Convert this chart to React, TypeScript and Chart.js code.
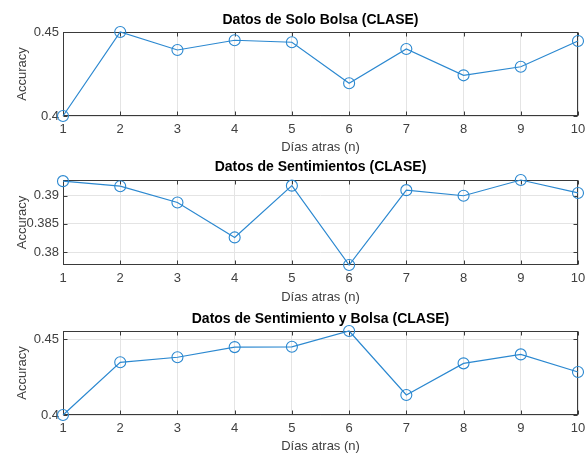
import React, { useEffect, useRef } from 'react';
import { Chart, registerables } from 'chart.js';

Chart.register(...registerables);

// ---- data ----
const days = [1, 2, 3, 4, 5, 6, 7, 8, 9, 10];
const soloBolsa = [0.4, 0.45, 0.4393, 0.4451, 0.4439, 0.4195, 0.4399, 0.4242, 0.4293, 0.4446];
const sentimientos = [0.3926, 0.3917, 0.3888, 0.3826, 0.3918, 0.3777, 0.391, 0.39, 0.3928, 0.3905];
const sentBolsa = [0.4, 0.4347, 0.438, 0.4447, 0.4449, 0.4553, 0.4132, 0.434, 0.4399, 0.4283];

const titles = [
  'Datos de Solo Bolsa (CLASE)',
  'Datos de Sentimientos (CLASE)',
  'Datos de Sentimiento y Bolsa (CLASE)',
];
const xLabel = 'Días atras (n)';
const yLabel = 'Accuracy';

const yTicks1 = [0.4, 0.45];
const yTicks2 = [0.38, 0.385, 0.39];
const yTicks3 = [0.4, 0.45];
const yRange1 = [0.4, 0.45];
const yRange2 = [0.3777, 0.3928];
const yRange3 = [0.4, 0.4553];

const FONT = "'Liberation Sans', Arial, Helvetica, sans-serif";
const LINE_COLOR = '#2b88d0';
const AXIS_COLOR = '#404040';

const boxPlugin = {
  id: 'matlabBox',
  beforeDatasetsDraw(chart: any) {
    const { ctx, chartArea: a, scales } = chart;
    const l = Math.round(a.left) + 0.5;
    const r = Math.round(a.right) - 0.5;
    const t = Math.round(a.top) + 0.5;
    const b = Math.round(a.bottom) - 0.5;
    ctx.save();
    ctx.strokeStyle = '#3a3a3a';
    ctx.lineWidth = 1;
    ctx.strokeRect(l, t, r - l, b - t);
    const tl = 4;
    ctx.beginPath();
    scales.x.ticks.forEach((tk: any) => {
      const x = Math.round(scales.x.getPixelForValue(tk.value)) + 0.5;
      ctx.moveTo(x, b);
      ctx.lineTo(x, b - tl);
      ctx.moveTo(x, t);
      ctx.lineTo(x, t + tl);
    });
    scales.y.ticks.forEach((tk: any) => {
      const y = Math.round(scales.y.getPixelForValue(tk.value)) + 0.5;
      ctx.moveTo(l, y);
      ctx.lineTo(l + tl, y);
      ctx.moveTo(r, y);
      ctx.lineTo(r - tl, y);
    });
    ctx.stroke();
    ctx.restore();
  },
};

type PanelProps = {
  top: number;
  height: number;
  title: string;
  values: number[];
  yRange: number[];
  yTicks: number[];
  titlePad: { top: number; bottom: number };
  plotBottom: number;
  xTitlePadBottom: number;
};

function Panel(p: PanelProps) {
  const ref = useRef<HTMLCanvasElement>(null);
  useEffect(() => {
    if (!ref.current) return;
    const chart = new Chart(ref.current, {
      type: 'line',
      data: {
        datasets: [
          {
            data: days.map((d, i) => ({ x: d, y: p.values[i] })),
            borderColor: LINE_COLOR,
            borderWidth: 1.2,
            backgroundColor: 'rgba(0,0,0,0)',
            pointStyle: 'circle',
            pointRadius: 5.5,
            pointBorderWidth: 1.1,
            pointBorderColor: LINE_COLOR,
            pointBackgroundColor: 'rgba(0,0,0,0)',
            tension: 0,
            clip: false as any,
          },
        ],
      },
      options: {
        responsive: false,
        animation: false,
        devicePixelRatio: 1,
        layout: { padding: { left: 0, right: 8, top: 0, bottom: 0 } },
        plugins: {
          legend: { display: false },
          tooltip: { enabled: false },
          title: {
            display: true,
            text: p.title,
            fullSize: false,
            color: '#000',
            font: { family: FONT, size: 14, weight: 'bold', lineHeight: '17px' },
            padding: p.titlePad,
          },
        },
        scales: {
          x: {
            type: 'linear',
            min: 1,
            max: 10,
            ticks: {
              stepSize: 1,
              color: AXIS_COLOR,
              font: { family: FONT, size: 13 },
              padding: 6,
              maxRotation: 0,
            },
            grid: { color: '#e4e4e4', drawTicks: false },
            border: { display: false },
            title: {
              display: true,
              text: xLabel,
              color: AXIS_COLOR,
              font: { family: FONT, size: 13 },
              padding: { top: 0, bottom: p.xTitlePadBottom },
            },
            afterFit: (s: any) => {
              s.height = p.height - p.plotBottom;
              s.paddingLeft = 0;
              s.paddingRight = 0;
            },
          },
          y: {
            type: 'linear',
            min: p.yRange[0],
            max: p.yRange[1],
            afterBuildTicks: (s: any) => {
              s.ticks = p.yTicks.map((v) => ({ value: v }));
            },
            ticks: {
              color: AXIS_COLOR,
              font: { family: FONT, size: 13 },
              padding: 4,
              callback: (v: any) => String(v),
            },
            grid: { color: '#e4e4e4', drawTicks: false },
            border: { display: false },
            title: {
              display: true,
              text: yLabel,
              color: AXIS_COLOR,
              font: { family: FONT, size: 13 },
              padding: { top: 15, bottom: 0 },
            },
            afterFit: (s: any) => {
              s.width = 63;
              s.paddingTop = 0;
              s.paddingBottom = 0;
            },
          },
        },
      } as any,
      plugins: [boxPlugin],
    });
    return () => chart.destroy();
  }, []);
  return (
    <canvas
      ref={ref}
      width={586}
      height={p.height}
      style={{ position: 'absolute', left: 0, top: p.top, width: 586, height: p.height }}
    />
  );
}

export default function App() {
  return (
    <div style={{ position: 'absolute', left: 0, top: 0, width: 586, height: 455, background: '#fff', overflow: 'hidden' }}>
      <Panel
        top={0}
        height={157}
        title={titles[0]}
        values={soloBolsa}
        yRange={yRange1}
        yTicks={yTicks1}
        titlePad={{ top: 12, bottom: 3 }}
        plotBottom={116}
        xTitlePadBottom={1.7}
      />
      <Panel
        top={157}
        height={151}
        title={titles[1]}
        values={sentimientos}
        yRange={yRange2}
        yTicks={yTicks2}
        titlePad={{ top: 2, bottom: 4 }}
        plotBottom={108}
        xTitlePadBottom={2.7}
      />
      <Panel
        top={308}
        height={147}
        title={titles[2]}
        values={sentBolsa}
        yRange={yRange3}
        yTicks={yTicks3}
        titlePad={{ top: 3, bottom: 3 }}
        plotBottom={107}
        xTitlePadBottom={0.7}
      />
    </div>
  );
}
